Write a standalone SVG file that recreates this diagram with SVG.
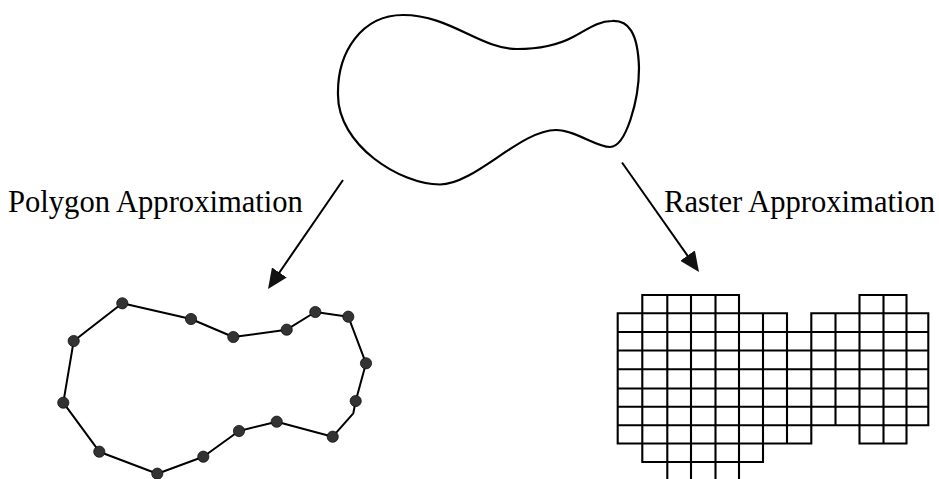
<svg xmlns="http://www.w3.org/2000/svg" width="939" height="479" viewBox="0 0 939 479">
  <style>
    .outline { fill: none; stroke: #000; stroke-width: 2.2; stroke-linejoin: round; }
    .edge { fill: none; stroke: #000; stroke-width: 2; stroke-linejoin: round; }
    .vertex { fill: #333; stroke: #111; stroke-width: 0.8; }
    .grid { fill: none; stroke: #000; stroke-width: 2.1; stroke-linecap: square; }
    .arrow { fill: none; stroke: #000; stroke-width: 2; }
    .label { font-family: "Liberation Serif", "Times New Roman", serif; font-size: 30.6px; fill: #000; }
  </style>
  <defs>
    <marker id="head" markerUnits="userSpaceOnUse" markerWidth="20" markerHeight="18" viewBox="0 0 20 18" refX="16" refY="9" orient="auto">
      <path d="M0,0 L20,9 L0,18 Z" fill="#111"/>
    </marker>
  </defs>

  <rect width="939" height="479" fill="#fff"/>

  <!-- original free-form region -->
  <g id="shape">
    <path class="outline" d="M338,95 C337,52 362,15 403,15 C450,15 480,49 517,49 C540,49 558,45 573,37 C588,29 598,21 612,21 C628,20 638,32 639,68 C639,100 626,147 610,147 C596,147 575,130 556,130 C520,130 475,184.5 440,184.5 C400,184.5 338,145 338,95 Z"/>
  </g>

  <!-- vector (polygon) version -->
  <g id="polygon">
    <polygon class="edge" points="122.3,303.3 191,319 233.3,337 286.7,329.7 315.3,312 348.3,316.7 366,363.3 355.7,401 353.3,413.3 332.7,436.7 276.7,421.7 239,431 203.3,456.7 157.3,473.7 99.3,451.7 63.3,402.7 73.7,341"/>
    <circle class="vertex" cx="122.3" cy="303.3" r="5.6"/>
    <circle class="vertex" cx="191" cy="319" r="5.6"/>
    <circle class="vertex" cx="233.3" cy="337" r="5.6"/>
    <circle class="vertex" cx="286.7" cy="329.7" r="5.6"/>
    <circle class="vertex" cx="315.3" cy="312" r="5.6"/>
    <circle class="vertex" cx="348.3" cy="316.7" r="5.6"/>
    <circle class="vertex" cx="366" cy="363.3" r="5.6"/>
    <circle class="vertex" cx="355.7" cy="401" r="5.6"/>
    <circle class="vertex" cx="332.7" cy="436.7" r="5.6"/>
    <circle class="vertex" cx="276.7" cy="421.7" r="5.6"/>
    <circle class="vertex" cx="239" cy="431" r="5.6"/>
    <circle class="vertex" cx="203.3" cy="456.7" r="5.6"/>
    <circle class="vertex" cx="157.3" cy="473.7" r="5.6"/>
    <circle class="vertex" cx="99.3" cy="451.7" r="5.6"/>
    <circle class="vertex" cx="63.3" cy="402.7" r="5.6"/>
    <circle class="vertex" cx="73.7" cy="341" r="5.6"/>
  </g>

  <!-- raster (cell) version -->
  <g id="raster">
    <path class="grid" d="
      M617.7,313.3 V443.5 M642.3,295 V462 M667.3,295 V480.3 M691,295 V480.3
      M715.5,295 V480.3 M739,295 V480.3 M763,313.3 V462 M787,313.3 V443.5
      M811.3,313.3 V443.5 M835.5,313.3 V425.2 M859.5,295 V443.5 M883.5,295 V443.5
      M906.5,295 V443.5 M928.3,313.3 V425.2
      M642.3,295 H739 M859.5,295 H906.5
      M617.7,313.3 H787 M811.3,313.3 H928.3
      M617.7,332 H928.3 M617.7,350.5 H928.3 M617.7,369.3 H928.3
      M617.7,388.5 H928.3 M617.7,406.8 H928.3 M617.7,425.2 H928.3
      M617.7,443.5 H811.3 M859.5,443.5 H906.5
      M642.3,462 H763 M667.3,480.3 H739"/>
  </g>

  <g id="connectors">
    <line class="arrow" x1="343" y1="180" x2="270.3" y2="285.7" marker-end="url(#head)"/>
    <line class="arrow" x1="622" y1="162.5" x2="696.7" y2="268.7" marker-end="url(#head)"/>
  </g>

  <g id="labels">
    <text class="label" x="8" y="212">Polygon Approximation</text>
    <text class="label" x="664" y="212">Raster Approximation</text>
  </g>
</svg>
